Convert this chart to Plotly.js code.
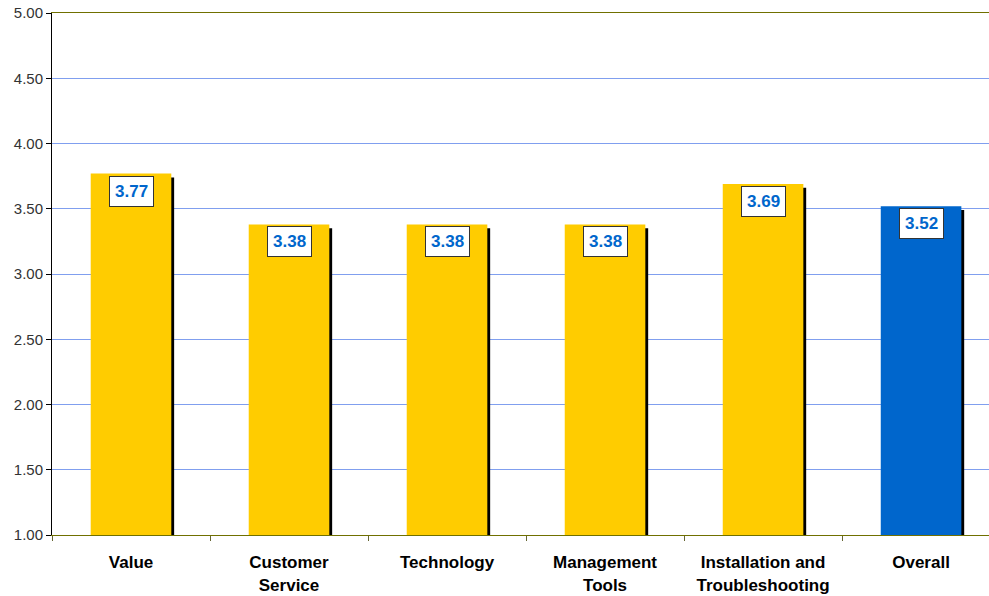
<!DOCTYPE html>
<html>
<head>
<meta charset="utf-8">
<script src="https://cdn.plot.ly/plotly-3.0.1.min.js"></script>
<style>html,body{margin:0;padding:0;background:#fff;}#chart{width:989px;height:596px;}</style>
</head>
<body>
<div id="chart"></div>
<script>
var categories = ["Value", "Customer<br>Service", "Technology", "Management<br>Tools", "Installation and<br>Troubleshooting", "Overall"];
var scores = [3.77, 3.38, 3.38, 3.38, 3.69, 3.52];
var barColors = ["#FFCC00", "#FFCC00", "#FFCC00", "#FFCC00", "#FFCC00", "#0066CC"];
var yTickVals = [1.0, 1.5, 2.0, 2.5, 3.0, 3.5, 4.0, 4.5, 5.0];

var barWidth = 0.51;
var shadowDrop = 0.03;

var shadow = {
  type: "bar",
  x: categories,
  y: scores.map(function(v){ return v - 1 - shadowDrop; }),
  base: 1,
  width: barWidth,
  offset: -barWidth/2 + 0.018,
  marker: {color: "#000000", line: {width: 0}},
  hoverinfo: "skip",
  showlegend: false
};
var bars = {
  type: "bar",
  x: categories,
  y: scores.map(function(v){ return v - 1; }),
  base: 1,
  width: barWidth,
  offset: -barWidth/2,
  marker: {color: barColors, line: {width: 0}},
  showlegend: false
};

var annotations = categories.map(function(c, i){
  return {
    x: c, y: scores[i], xref: "x", yref: "y",
    text: "<b>" + scores[i].toFixed(2) + "</b>",
    showarrow: false, yanchor: "top", yshift: -2,
    font: {family: "Arial, Liberation Sans, sans-serif", size: 17, color: "#0066CC"},
    bgcolor: "#FFFFFF", bordercolor: "#333333", borderwidth: 1, borderpad: 5
  };
});

var layout = {
  width: 989, height: 596,
  margin: {l: 52, r: 0, t: 13, b: 61},
  paper_bgcolor: "#FFFFFF", plot_bgcolor: "#FFFFFF",
  barmode: "overlay",
  font: {family: "Arial, Liberation Sans, sans-serif"},
  xaxis: {
    type: "category",
    range: [-0.5, 5.43],
    tickson: "boundaries",
    ticks: "outside", ticklen: 5, tickcolor: "#666633",
    showline: true, linecolor: "#707000", linewidth: 1, mirror: true,
    showgrid: false,
    tickfont: {size: 17, color: "#000000", family: "Arial, Liberation Sans, sans-serif", weight: "bold"},
    ticklabelstandoff: 12
  },
  yaxis: {
    range: [1, 5],
    tickvals: yTickVals,
    tickformat: ".2f",
    ticks: "outside", ticklen: 5, tickcolor: "#000000",
    showline: true, linecolor: "#000000", linewidth: 1,
    showgrid: true, gridcolor: "#809FEF", gridwidth: 1,
    zeroline: false,
    tickfont: {size: 15, color: "#333333", family: "Arial, Liberation Sans, sans-serif"}
  },
  annotations: annotations
};

Plotly.newPlot("chart", [shadow, bars], layout, {displayModeBar: false, staticPlot: true});
</script>
</body>
</html>
